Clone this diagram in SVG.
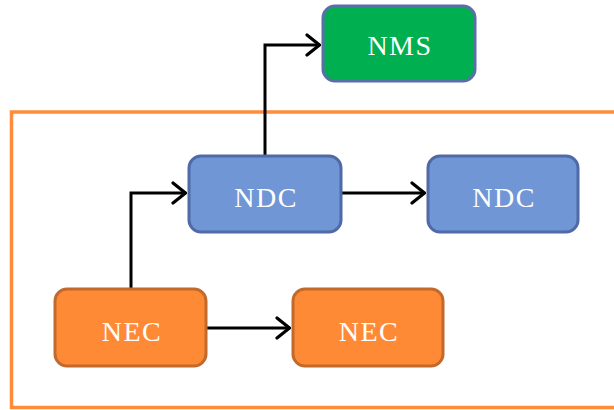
<svg xmlns="http://www.w3.org/2000/svg" width="614" height="410" viewBox="0 0 614 410">
  <defs>
    <style>
      .frame { fill: none; stroke: #ff8c3a; stroke-width: 3.5; }
      .box { stroke-width: 3; }
      .nms { fill: #00b050; stroke: #5a6ea8; }
      .ndc { fill: #7096d6; stroke: #4f6aa6; }
      .nec { fill: #ff8a36; stroke: #c2692c; }
      .label { font-family: "Liberation Serif", "Times New Roman", serif; font-size: 28px; letter-spacing: 1.5px; fill: #ffffff; text-anchor: middle; }
      .wire { fill: none; stroke: #000000; stroke-width: 3; }
      .head { fill: none; stroke: #000000; stroke-width: 3.2; stroke-linecap: round; stroke-linejoin: round; }
    </style>
    <marker id="arrow" viewBox="0 0 16 24" refX="15" refY="12" markerWidth="16" markerHeight="24" markerUnits="userSpaceOnUse" orient="auto">
      <path class="head" d="M2,2 L14.5,12 L2,22"/>
    </marker>
  </defs>

  <!-- domain frame, open on the right -->
  <path class="frame" d="M620,112 L11.5,112 L11.5,407.5 L620,407.5"/>

  <!-- connectors -->
  <g id="connectors">
    <path class="wire" d="M265,155 L265,45 L320,45" marker-end="url(#arrow)"/>
    <path class="wire" d="M131,288 L131,193 L186,193" marker-end="url(#arrow)"/>
    <path class="wire" d="M342,193 L425,193" marker-end="url(#arrow)"/>
    <path class="wire" d="M207,328 L290,328" marker-end="url(#arrow)"/>
  </g>

  <g id="nms">
    <rect class="box nms" x="323" y="6" width="152" height="75" rx="12"/>
    <text class="label" x="400" y="55">NMS</text>
  </g>

  <g id="ndc-1">
    <rect class="box ndc" x="189" y="156" width="152" height="76" rx="12"/>
    <text class="label" x="266" y="207">NDC</text>
  </g>

  <g id="ndc-2">
    <rect class="box ndc" x="428" y="156" width="150" height="76" rx="12"/>
    <text class="label" x="504" y="207">NDC</text>
  </g>

  <g id="nec-1">
    <rect class="box nec" x="55" y="289" width="151" height="77" rx="12"/>
    <text class="label" x="132" y="341">NEC</text>
  </g>

  <g id="nec-2">
    <rect class="box nec" x="293" y="289" width="150" height="77" rx="12"/>
    <text class="label" x="369" y="341">NEC</text>
  </g>
</svg>
